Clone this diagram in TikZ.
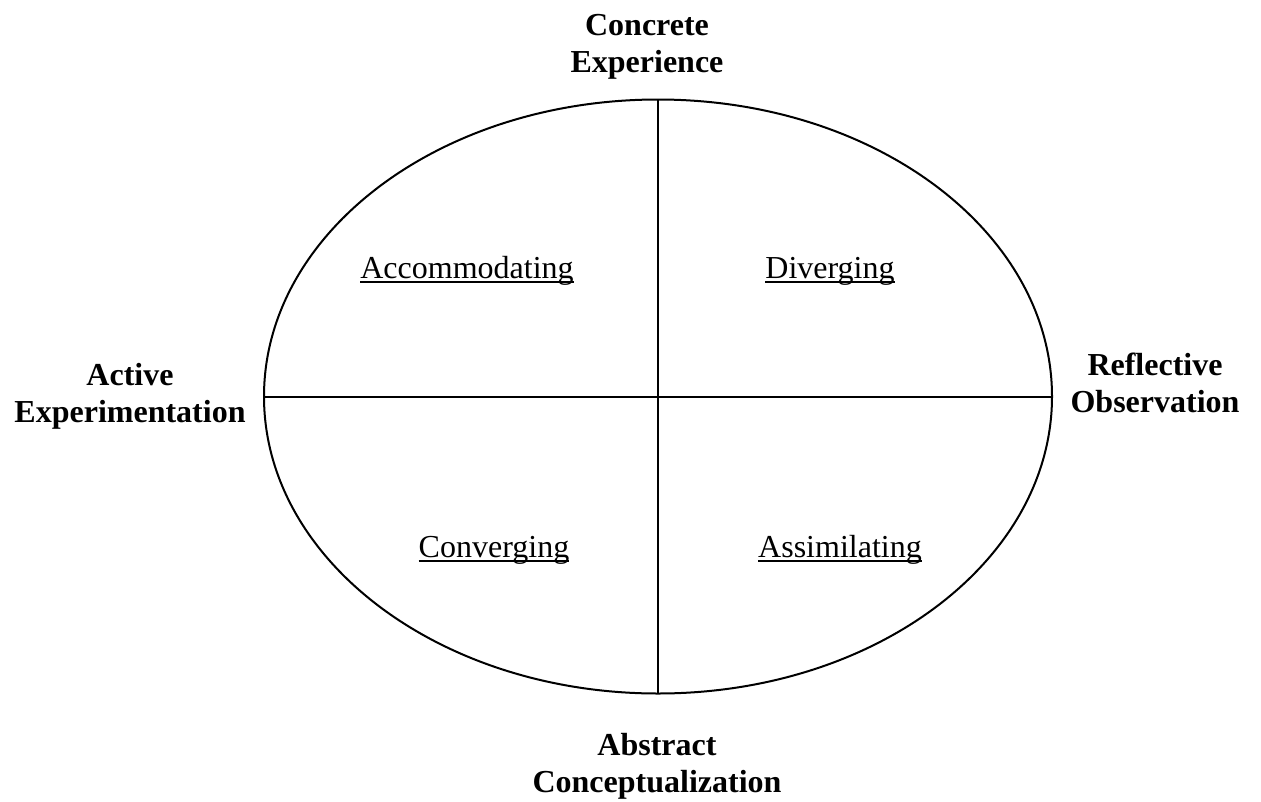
\documentclass[tikz,border=0pt]{standalone}
\usepackage{fontspec}
\setmainfont{Liberation Serif}
\usetikzlibrary{shapes.geometric}

% underline at a fixed depth, through the descenders
\newcommand{\wordline}[1]{\setbox0\hbox{#1}\rlap{\rule[-5pt]{\wd0}{2pt}}\box0}

\tikzset{
	axis/.style={font=\fontsize{32}{37}\selectfont\bfseries, align=center, anchor=base, inner sep=0pt},
	style/.style={font=\fontsize{32}{37}\selectfont, anchor=base, inner sep=0pt}
}

\begin{document}
\begin{tikzpicture}[x=1pt, y=-1pt, line width=2pt]
	\useasboundingbox (0,0) rectangle (1261,801);

	\node (cycle) [ellipse, draw=black, minimum width=788pt, minimum height=594pt, inner sep=0pt, outer sep=0pt] at (658,396.5) {};

	\draw (cycle.north) -- (cycle.south);
	\draw (cycle.west) -- (cycle.east);

	\node (ce) [axis] at (647,72) {Concrete\\Experience};
	\node (ae) [axis] at (130,422) {Active\\Experimentation};
	\node (ro) [axis] at (1155,412) {Reflective\\Observation};
	\node (ac) [axis] at (657,792) {Abstract\\Conceptualization};

	\node (accommodating) [style] at (467,278) {\wordline{Accommodating}};
	\node (diverging) [style] at (830,278) {\wordline{Diverging}};
	\node (converging) [style] at (494,557) {\wordline{Converging}};
	\node (assimilating) [style] at (840,557) {\wordline{Assimilating}};
\end{tikzpicture}
\end{document}
